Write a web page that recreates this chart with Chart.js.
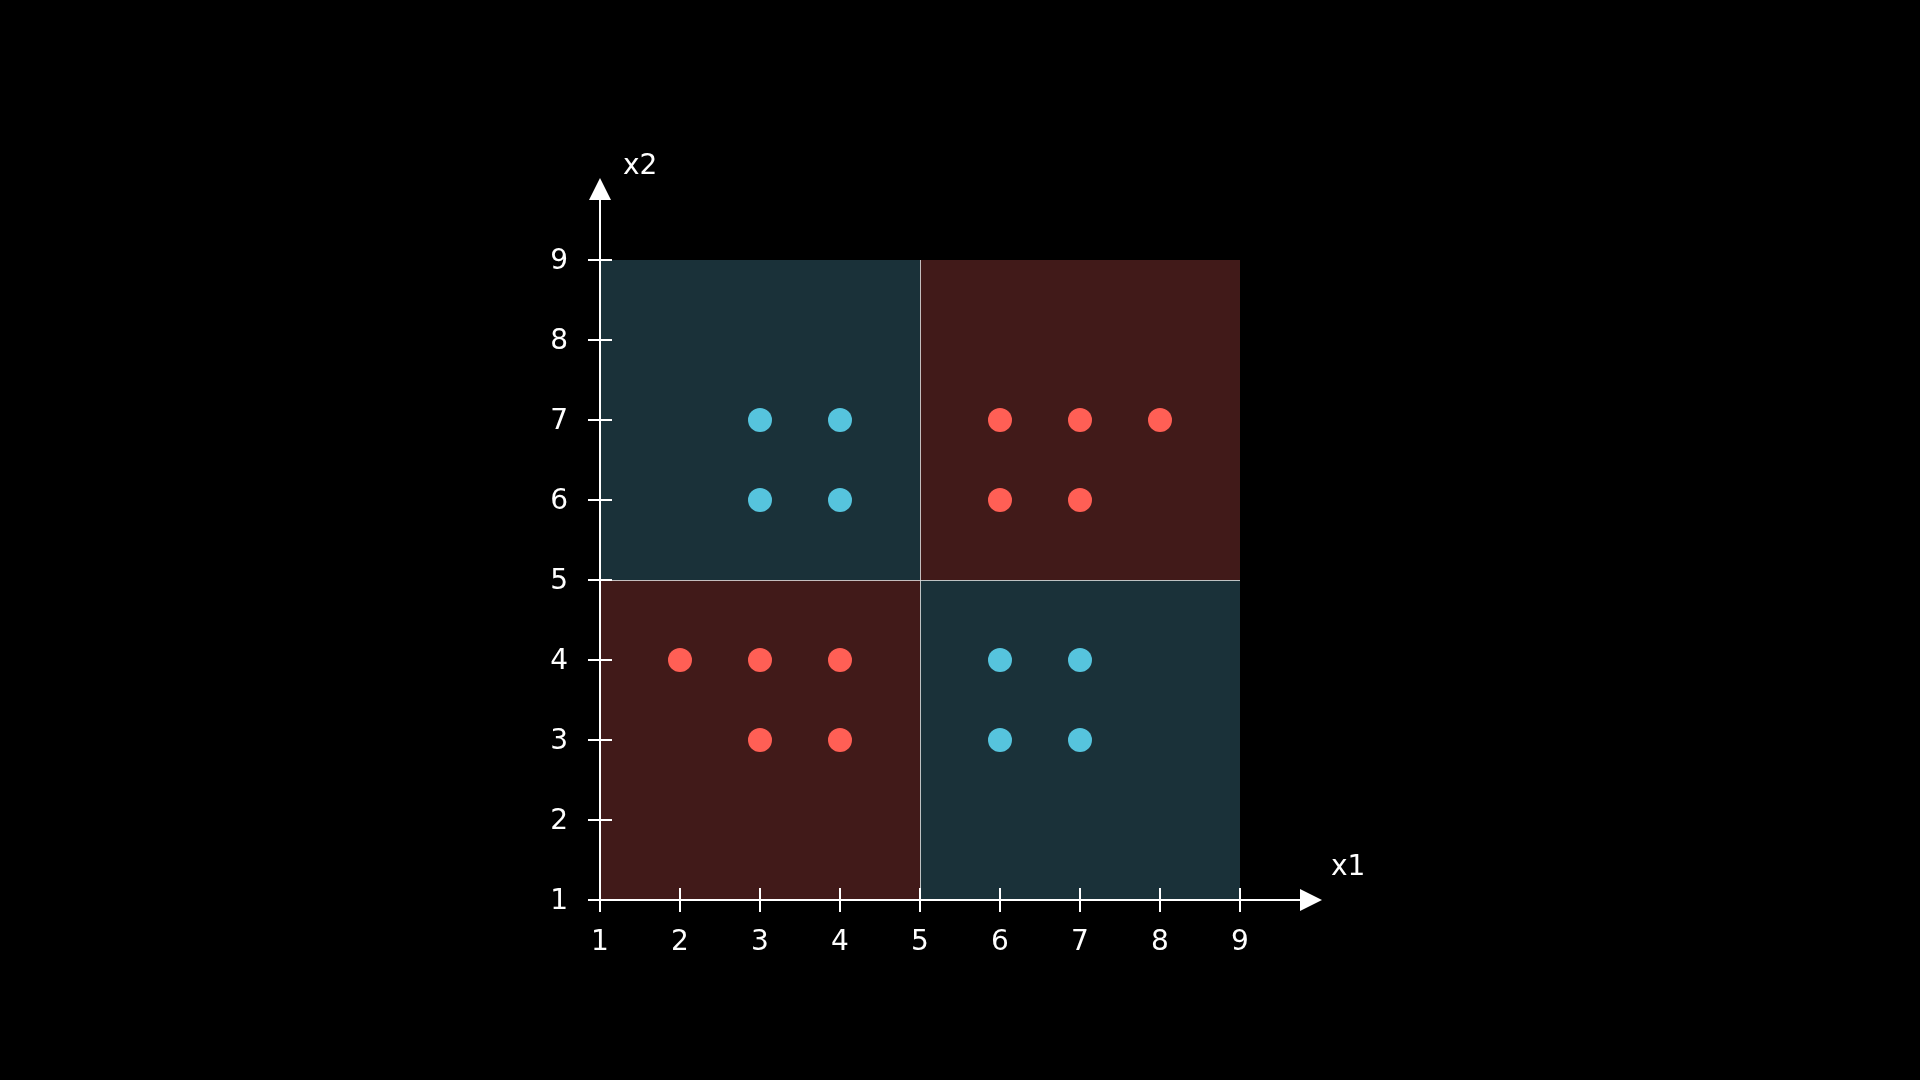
<!DOCTYPE html>
<html lang="en">
<head>
    <meta charset="UTF-8">
    <title>XOR quadrants</title>
    <script src="https://cdn.jsdelivr.net/npm/chart.js"></script>
    <style>
        body {
            margin: 0;
            background: #000;
        }
        canvas {
            display: block;
        }
    </style>
</head>
<body>
    <canvas id="xorChart" width="1920" height="1080"></canvas>

    <script>
        // data
        const xTicks = [1, 2, 3, 4, 5, 6, 7, 8, 9];
        const yTicks = [1, 2, 3, 4, 5, 6, 7, 8, 9];

        const blueX = [3, 4, 3, 4, 6, 7, 6, 7];
        const blueY = [7, 7, 6, 6, 4, 4, 3, 3];

        const redX = [6, 7, 8, 6, 7, 2, 3, 4, 3, 4];
        const redY = [7, 7, 7, 6, 6, 4, 4, 4, 3, 3];

        // quadrant regions: [xFrom, xTo, yFrom, yTo, class]
        const quadrants = [
            [1, 5, 5, 9, 'blue'],
            [5, 9, 5, 9, 'red'],
            [1, 5, 1, 5, 'red'],
            [5, 9, 1, 5, 'blue']
        ];
        const splitAt = 5;

        const BLUE = '#56c4dd';
        const RED = '#ff5f55';
        const BG = { blue: '#1a3139', red: '#411a19' };
        const FONT = '28px "DejaVu Sans", sans-serif';

        function toPoints(xs, ys) {
            return xs.map((x, i) => ({ x: x, y: ys[i] }));
        }

        const xorPlugin = {
            id: 'xorAxes',
            beforeDatasetsDraw(chart) {
                const ctx = chart.ctx;
                const xs = chart.scales.x, ys = chart.scales.y;
                ctx.save();
                quadrants.forEach(q => {
                    const left = xs.getPixelForValue(q[0]);
                    const right = xs.getPixelForValue(q[1]);
                    const top = ys.getPixelForValue(q[3]);
                    const bottom = ys.getPixelForValue(q[2]);
                    ctx.fillStyle = BG[q[4]];
                    ctx.fillRect(left, top, right - left, bottom - top);
                });
                // divider lines
                ctx.strokeStyle = 'rgba(220,220,220,0.85)';
                ctx.lineWidth = 1;
                const sx = Math.round(xs.getPixelForValue(splitAt)) + 0.5;
                const sy = Math.round(ys.getPixelForValue(splitAt)) + 0.5;
                ctx.beginPath();
                ctx.moveTo(sx, ys.getPixelForValue(9));
                ctx.lineTo(sx, ys.getPixelForValue(1));
                ctx.moveTo(xs.getPixelForValue(1), sy);
                ctx.lineTo(xs.getPixelForValue(9), sy);
                ctx.stroke();
                ctx.restore();
            },
            afterDatasetsDraw(chart) {
                const ctx = chart.ctx;
                const xs = chart.scales.x, ys = chart.scales.y;
                const ox = xs.getPixelForValue(1);
                const oy = ys.getPixelForValue(1);
                const tick = 12;
                ctx.save();
                ctx.strokeStyle = '#fff';
                ctx.fillStyle = '#fff';
                ctx.lineWidth = 2;

                // axes lines
                ctx.beginPath();
                ctx.moveTo(ox, oy + tick);
                ctx.lineTo(ox, 198);
                ctx.moveTo(ox - tick, oy);
                ctx.lineTo(1302, oy);
                ctx.stroke();

                // arrows
                ctx.beginPath();
                ctx.moveTo(ox, 178);
                ctx.lineTo(ox - 11, 200);
                ctx.lineTo(ox + 11, 200);
                ctx.closePath();
                ctx.fill();
                ctx.beginPath();
                ctx.moveTo(1322, oy);
                ctx.lineTo(1300, oy - 11);
                ctx.lineTo(1300, oy + 11);
                ctx.closePath();
                ctx.fill();

                // ticks
                ctx.beginPath();
                xTicks.forEach(v => {
                    const px = xs.getPixelForValue(v);
                    ctx.moveTo(px, oy - tick);
                    ctx.lineTo(px, oy + tick);
                });
                yTicks.forEach(v => {
                    const py = ys.getPixelForValue(v);
                    ctx.moveTo(ox - tick, py);
                    ctx.lineTo(ox + tick, py);
                });
                ctx.stroke();

                // tick labels
                ctx.font = FONT;
                ctx.textBaseline = 'middle';
                ctx.textAlign = 'center';
                xTicks.forEach(v => {
                    ctx.fillText(String(v), xs.getPixelForValue(v), oy + 43);
                });
                ctx.textAlign = 'right';
                yTicks.forEach(v => {
                    ctx.fillText(String(v), ox - 32, ys.getPixelForValue(v) + 2);
                });

                // axis titles
                ctx.textAlign = 'left';
                ctx.fillText('x2', 623, 167);
                ctx.fillText('x1', 1331, 868);
                ctx.restore();
            }
        };

        new Chart(document.getElementById('xorChart'), {
            type: 'scatter',
            data: {
                datasets: [
                    {
                        label: 'class A',
                        data: toPoints(blueX, blueY),
                        backgroundColor: BLUE,
                        borderWidth: 0,
                        pointRadius: 12,
                        pointHoverRadius: 12
                    },
                    {
                        label: 'class B',
                        data: toPoints(redX, redY),
                        backgroundColor: RED,
                        borderWidth: 0,
                        pointRadius: 12,
                        pointHoverRadius: 12
                    }
                ]
            },
            options: {
                responsive: false,
                animation: false,
                layout: {
                    padding: { left: 600, right: 680, top: 260, bottom: 180 }
                },
                plugins: {
                    legend: { display: false },
                    tooltip: { enabled: false }
                },
                scales: {
                    x: { type: 'linear', min: 1, max: 9, display: false },
                    y: { type: 'linear', min: 1, max: 9, display: false }
                }
            },
            plugins: [xorPlugin]
        });
    </script>
</body>
</html>
